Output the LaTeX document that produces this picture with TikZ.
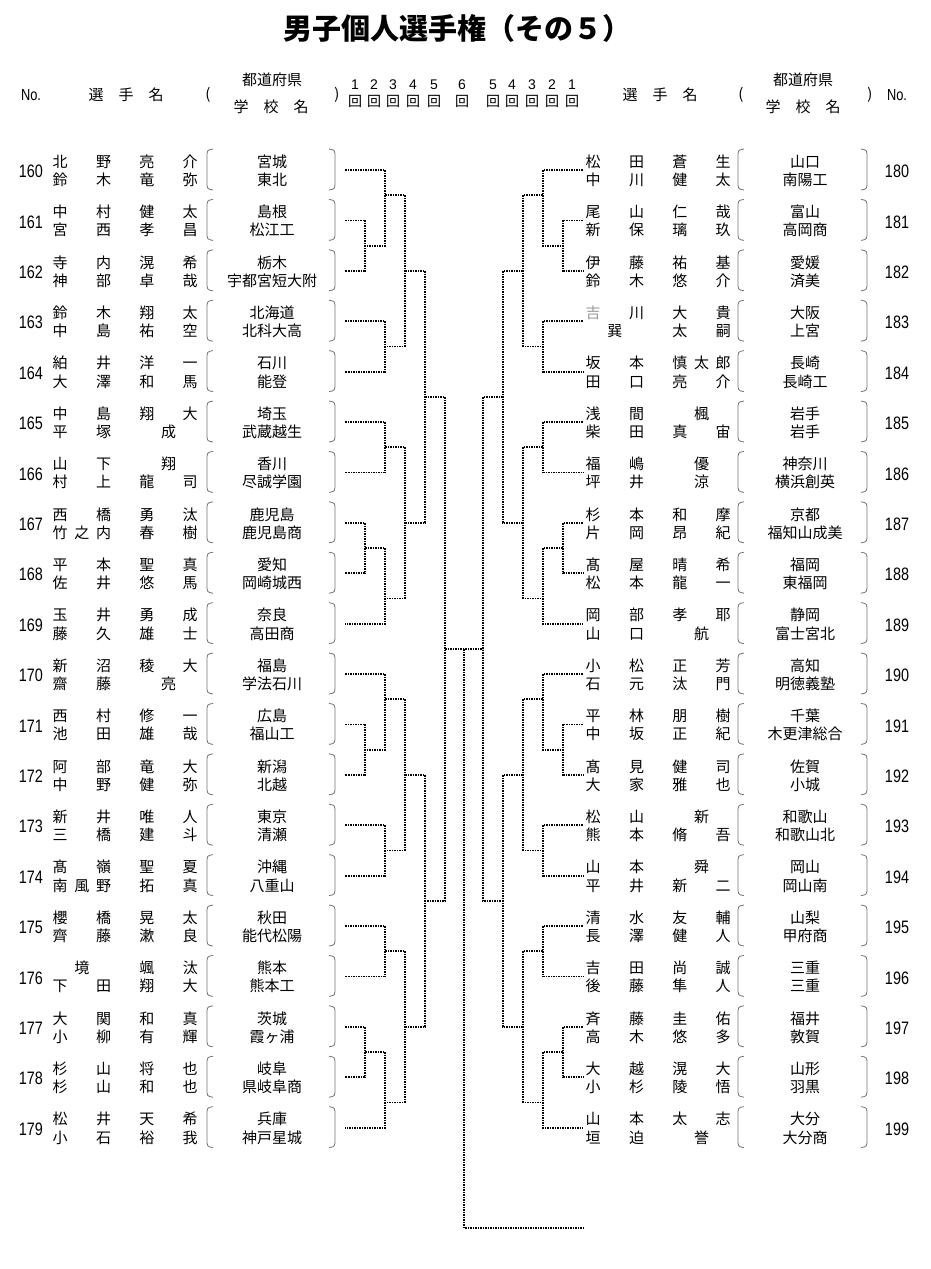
\documentclass[tikz,border=0pt]{standalone}
\usepackage{fontspec}
\setmainfont{Noto Sans CJK JP}
\newfontfamily\numfont[FakeStretch=0.8]{Liberation Sans}
\newfontfamily\digfont{Liberation Sans}

% one name line = 7 slots of equal width, '-' leaves a slot empty
\newcommand\slots[1]{\expandafter\slotsA#1\relax}
\def\slotsA#1{\ifx\relax#1\else\makebox[21.67pt]{\ifx-#1\else#1\fi}\expandafter\slotsA\fi}

% round brackets round the prefecture and school
\newcommand\opn[2]{\draw[paren] (#1+6,#2-21) .. controls (#1,#2-20) .. (#1,#2-12) -- (#1,#2+11) .. controls (#1,#2+19) .. (#1+6,#2+20);}
\newcommand\cls[2]{\draw[paren] (#1-6,#2-21) .. controls (#1,#2-20) .. (#1,#2-12) -- (#1,#2+11) .. controls (#1,#2+19) .. (#1-6,#2+20);}

\begin{document}
\begin{tikzpicture}[x=1pt,y=-1pt,
    bk/.style={line width=1.8pt, dash pattern=on 2pt off 1pt on 1pt off 1pt},
    nm/.style={anchor=west, inner sep=0pt, font=\fontsize{15}{15}\selectfont, text height=13pt, text depth=2pt},
    pf/.style={inner sep=0pt, font=\fontsize{15}{15}\selectfont, text height=13pt, text depth=2pt},
    num/.style={inner sep=0pt, font=\numfont\fontsize{18}{18}\selectfont},
    hd/.style={inner sep=0pt, font=\fontsize{15}{15}\selectfont},
    rd/.style={inner sep=0pt, font=\digfont\fontsize{14}{14}\selectfont},
    kai/.style={inner sep=0pt, font=\fontsize{14}{14}\selectfont},
    paren/.style={black!55, line width=0.8pt}]
    \useasboundingbox (0,0) rectangle (930,1269);

    % title and header
    \node[font=\bfseries\fontsize{29}{29}\selectfont] (title) at (457,28) {男子個人選手権（その５）};
    \node[num, font=\numfont\fontsize{16}{16}\selectfont] (noL) at (31,95) {No.};
    \node[hd] (nameL) at (126,95) {選\hspace{1em}手\hspace{1em}名};
    \node[hd] (opL) at (208,95) {(};
    \node[hd] (prefL) at (272,80) {都道府県};
    \node[hd] (schL) at (271,107) {学\hspace{1em}校\hspace{1em}名};
    \node[hd] (clL) at (337,95) {)};
    \node[hd] (nameR) at (660,95) {選\hspace{1em}手\hspace{1em}名};
    \node[hd] (opR) at (741,95) {(};
    \node[hd] (prefR) at (803,80) {都道府県};
    \node[hd] (schR) at (803,107) {学\hspace{1em}校\hspace{1em}名};
    \node[hd] (clR) at (870,95) {)};
    \node[num, font=\numfont\fontsize{16}{16}\selectfont] (noR) at (897,95) {No.};
    \foreach \rn/\x in {1/355,2/374,3/393,4/413,5/434,6/462,5/493,4/512,3/532,2/552,1/572}
        {\node[rd] (rd\x) at (\x,85) {\rn};
         \node[kai] (ka\x) at (\x,101) {回};}

    % left entries
    \foreach \i/\enr/\nup/\ndn/\pup/\pdn in {
        0/160/北-野-亮-介/鈴-木-竜-弥/宮城/東北,
        1/161/中-村-健-太/宮-西-孝-昌/島根/松江工,
        2/162/寺-内-滉-希/神-部-卓-哉/栃木/宇都宮短大附,
        3/163/鈴-木-翔-太/中-島-祐-空/北海道/北科大高,
        4/164/絈-井-洋-一/大-澤-和-馬/石川/能登,
        5/165/中-島-翔-大/平-塚--成-/埼玉/武蔵越生,
        6/166/山-下--翔-/村-上-龍-司/香川/尽誠学園,
        7/167/西-橋-勇-汰/竹之内-春-樹/鹿児島/鹿児島商,
        8/168/平-本-聖-真/佐-井-悠-馬/愛知/岡崎城西,
        9/169/玉-井-勇-成/藤-久-雄-士/奈良/高田商,
        10/170/新-沼-稜-大/齋-藤--亮-/福島/学法石川,
        11/171/西-村-修-一/池-田-雄-哉/広島/福山工,
        12/172/阿-部-竜-大/中-野-健-弥/新潟/北越,
        13/173/新-井-唯-人/三-橋-建-斗/東京/清瀬,
        14/174/髙-嶺-聖-夏/南風野-拓-真/沖縄/八重山,
        15/175/櫻-橋-晃-太/齊-藤-漱-良/秋田/能代松陽,
        16/176/-境--颯-汰/下-田-翔-大/熊本/熊本工,
        17/177/大-関-和-真/小-柳-有-輝/茨城/霞ヶ浦,
        18/178/杉-山-将-也/杉-山-和-也/岐阜/県岐阜商,
        19/179/松-井-天-希/小-石-裕-我/兵庫/神戸星城}
    {
        \pgfmathsetmacro\yc{170+50.4*\i}
        \coordinate (le\i) at (345,\yc);
        \node[num] (no\enr) at (31,\yc+1.5) {\enr};
        \node[nm] (u\enr) at (49.2,\yc-8.3) {\slots\nup};
        \node[nm] (d\enr) at (49.2,\yc+10) {\slots\ndn};
        \node[pf] (p\enr) at (272,\yc-8.3) {\pup};
        \node[pf] (s\enr) at (272,\yc+10) {\pdn};
        \opn{207}{\yc} \cls{335}{\yc}
    }

    % right entries
    \foreach \i/\enr/\nup/\ndn/\pup/\pdn in {
        0/180/松-田-蒼-生/中-川-健-太/山口/南陽工,
        1/181/尾-山-仁-哉/新-保-璃-玖/富山/高岡商,
        2/182/伊-藤-祐-基/鈴-木-悠-介/愛媛/済美,
        3/183/{\color{black!40}吉}-川-大-貴/-巽--太-嗣/大阪/上宮,
        4/184/坂-本-慎太郎/田-口-亮-介/長崎/長崎工,
        5/185/浅-間--楓-/柴-田-真-宙/岩手/岩手,
        6/186/福-嶋--優-/坪-井--涼-/神奈川/横浜創英,
        7/187/杉-本-和-摩/片-岡-昂-紀/京都/福知山成美,
        8/188/髙-屋-晴-希/松-本-龍-一/福岡/東福岡,
        9/189/岡-部-孝-耶/山-口--航-/静岡/富士宮北,
        10/190/小-松-正-芳/石-元-汰-門/高知/明徳義塾,
        11/191/平-林-朋-樹/中-坂-正-紀/千葉/木更津総合,
        12/192/髙-見-健-司/大-家-雅-也/佐賀/小城,
        13/193/松-山--新-/熊-本-脩-吾/和歌山/和歌山北,
        14/194/山-本--舜-/平-井-新-二/岡山/岡山南,
        15/195/清-水-友-輔/長-澤-健-人/山梨/甲府商,
        16/196/吉-田-尚-誠/後-藤-隼-人/三重/三重,
        17/197/斉-藤-圭-佑/高-木-悠-多/福井/敦賀,
        18/198/大-越-滉-大/小-杉-陵-悟/山形/羽黒,
        19/199/山-本-太-志/垣-迫--誉-/大分/大分商}
    {
        \pgfmathsetmacro\yc{170+50.4*\i}
        \coordinate (re\i) at (583,\yc);
        \node[num] (no\enr) at (897,\yc+1.5) {\enr};
        \node[nm] (u\enr) at (582.2,\yc-8.3) {\slots\nup};
        \node[nm] (d\enr) at (582.2,\yc+10) {\slots\ndn};
        \node[pf] (p\enr) at (805,\yc-8.3) {\pup};
        \node[pf] (s\enr) at (805,\yc+10) {\pdn};
        \opn{738}{\yc} \cls{867}{\yc}
    }

    % bracket, both halves mirrored about x=464
    \foreach \sd/\sx in {l/-1,r/1}
    {
        \foreach \jn/\off/\y/\ja/\jb in {
            a1/99/245.6/e1/e2, a2/99/548/e7/e8, a3/99/749.6/e11/e12, a4/99/1052/e17/e18,
            b1/79/195.2/e0/a1, b2/79/346.4/e3/e4, b3/79/447.2/e5/e6, b4/79/598.4/a2/e9,
            b5/79/699.2/e10/a3, b6/79/850.4/e13/e14, b7/79/951.2/e15/e16, b8/79/1102.4/a4/e19,
            c1/59/270.8/b1/b2, c2/59/522.8/b3/b4, c3/59/774.8/b5/b6, c4/59/1026.8/b7/b8,
            d1/39/396.8/c1/c2, d2/39/900.8/c3/c4,
            f/19/648.8/d1/d2}
        {
            \coordinate (\sd\jn) at ({464+\sx*\off},\y);
            \draw[bk] (\sd\ja) -| (\sd\jn) |- (\sd\jb);
        }
    }
    \draw[bk] (lf) -- (rf);
    \coordinate (mid) at (464,648.8);
    \coordinate (fin) at (583,1228);
    \draw[bk] (mid) |- (fin);

\end{tikzpicture}
\end{document}
